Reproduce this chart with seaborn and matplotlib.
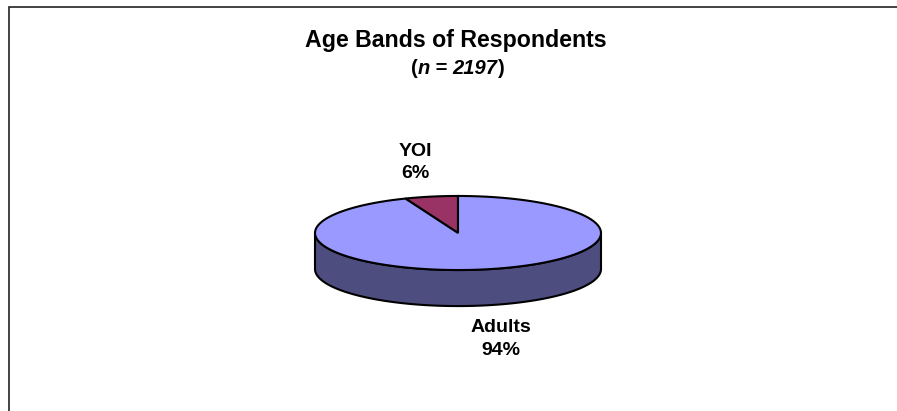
import numpy as np
import seaborn as sns
import matplotlib.pyplot as plt
from matplotlib.patches import Polygon, Rectangle
from matplotlib.offsetbox import TextArea, HPacker, AnchoredOffsetbox

labels = ["YOI", "Adults"]
shares = [6, 94]
top_colors = ["#993366", "#9999FF"]

sns.set_style("white")
plt.rcParams["font.family"] = ["Liberation Sans", "DejaVu Sans"]
plt.rcParams["text.color"] = "black"

fig = plt.figure(figsize=(8.97, 4.11), dpi=100)
ax = fig.add_axes([0, 0, 1, 1])
ax.set_xlim(-458 / 143, (897 - 458) / 143)
ax.set_ylim(-178 / 143, (411 - 178) / 143)
ax.set_aspect("equal")
ax.axis("off")

ry = 0.259
depth = 0.252
side_colors = [tuple(c * 0.5 for c in sns.color_palette([col])[0]) for col in top_colors]


def arc(a0, a1, n=120):
    t = np.radians(np.linspace(a0, a1, n))
    return np.column_stack([np.cos(t), ry * np.sin(t)])


# slices go counter-clockwise from 12 o'clock
fractions = np.array(shares) / sum(shares)
starts = 90 + 360 * np.concatenate([[0], np.cumsum(fractions)[:-1]])
ends = starts + 360 * fractions

# side walls (front half only is visible)
for a0, a1, sc in zip(starts, ends, side_colors):
    for off in (0, 360, -360):
        lo, hi = max(a0 + off, 180), min(a1 + off, 360)
        if hi > lo:
            pts = arc(lo, hi)
            low = pts - [0, depth]
            ax.add_patch(Polygon(np.vstack([pts, low[::-1]]), closed=True,
                                 facecolor=sc, edgecolor="black", lw=1.5, zorder=2))

# top faces
for a0, a1, tc in zip(starts, ends, top_colors):
    pts = np.vstack([[0, 0], arc(a0, a1), [0, 0]])
    ax.add_patch(Polygon(pts, closed=True, facecolor=tc, edgecolor="black",
                         lw=1.5, zorder=3, joinstyle="miter"))

# slice labels
for lab, val, a0, a1 in zip(labels, shares, starts, ends):
    mid = np.radians((a0 + a1) / 2)
    x = 1.6 * np.cos(mid)
    y = 0.5 * np.sin(mid) - (0.25 if np.sin(mid) < 0 else 0)
    ax.text(x, y, f"{lab}\n{val}%", ha="center", va="center", fontsize=14,
            fontweight="bold", linespacing=1.4, zorder=4)

# title
fig.text(455.5 / 897, 1 - 40 / 411, "Age Bands of Respondents", ha="center",
         va="center", fontsize=16.7, fontweight="bold")
parts = [("(", "normal"), ("n", "italic"), (" = ", "normal"), ("2197", "italic"), (")", "normal")]
boxes = [TextArea(s, textprops=dict(fontsize=14.5, fontweight="bold", fontstyle=st))
         for s, st in parts]
sub = AnchoredOffsetbox(loc="center", child=HPacker(children=boxes, sep=0, pad=0),
                        frameon=False, bbox_to_anchor=(457.5 / 897, 1 - 68 / 411),
                        bbox_transform=fig.transFigure, pad=0, borderpad=0)
fig.add_artist(sub)

# chart frame
fig.add_artist(Rectangle((8.5 / 897, -0.1), 1.2, 1.1 - 7.5 / 411, transform=fig.transFigure,
                         fill=False, edgecolor="#222222", lw=1.2))

fig.savefig("out.png", dpi=100)
